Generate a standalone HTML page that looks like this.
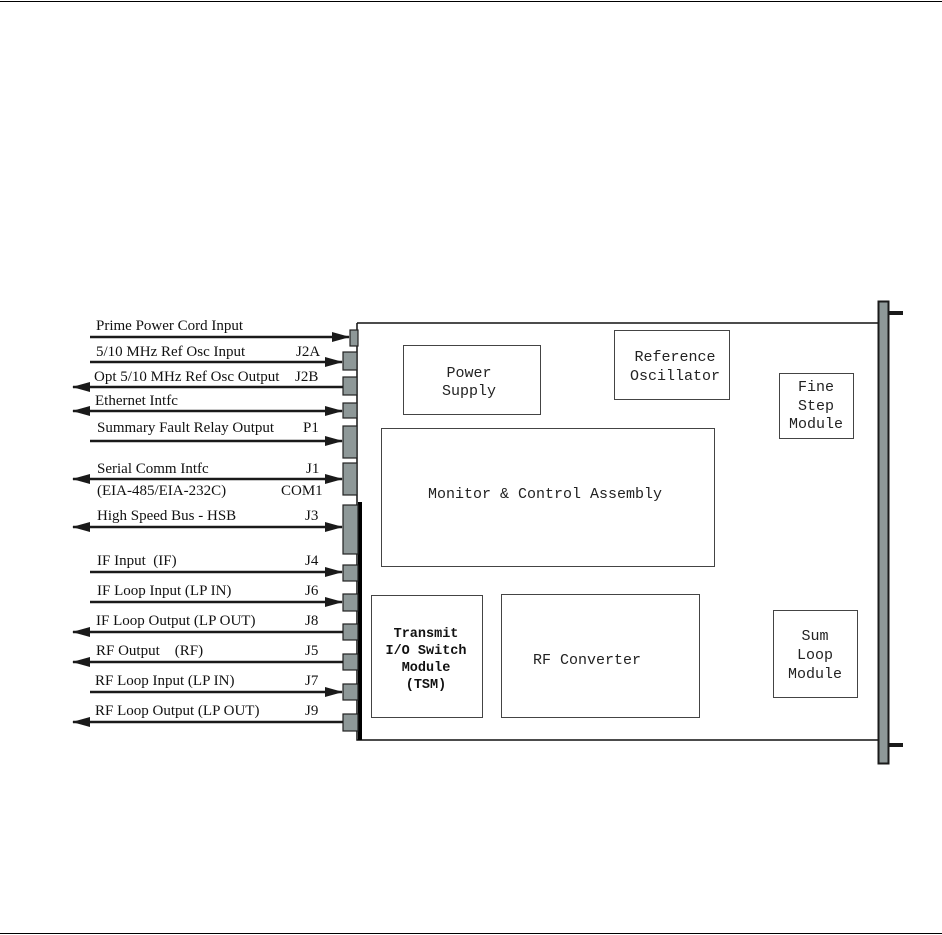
<!DOCTYPE html>
<html><head><meta charset="utf-8"><style>
html,body{margin:0;padding:0;background:#fff;}
svg{display:block;}
text{white-space:pre;}
.s{font-family:"Liberation Serif",serif;font-size:15px;fill:#111;}
.m{font-family:"Liberation Mono",monospace;font-size:15px;fill:#222;}
.b{font-family:"Liberation Mono",monospace;font-size:13.5px;font-weight:bold;fill:#111;}
</style></head><body>
<svg width="942" height="935" viewBox="0 0 942 935" xmlns="http://www.w3.org/2000/svg">
<defs>
<marker id="ah" markerWidth="18" markerHeight="10" refX="17" refY="5" orient="auto" markerUnits="userSpaceOnUse">
<path d="M0,0 L18,5 L0,10 z" fill="#1a1a1a"/></marker>
<marker id="at" markerWidth="18" markerHeight="10" refX="1" refY="5" orient="auto" markerUnits="userSpaceOnUse">
<path d="M18,0 L0,5 L18,10 z" fill="#1a1a1a"/></marker>
</defs>
<line x1="0" y1="1.5" x2="942" y2="1.5" stroke="#000" stroke-width="1"/>
<line x1="0" y1="933.5" x2="942" y2="933.5" stroke="#000" stroke-width="1"/>

<path d="M357,323 H878 M357,323 V740 H878" fill="none" stroke="#111" stroke-width="1.5"/>
<rect x="358" y="502" width="4" height="238" fill="#000"/>
<rect x="878.5" y="301.5" width="10" height="462" fill="#8e9898" stroke="#1a1a1a" stroke-width="2"/>
<rect x="889" y="311" width="14" height="4" fill="#1a1a1a"/>
<rect x="889" y="743" width="14" height="4" fill="#1a1a1a"/>

<g fill="#8e9898" stroke="#222" stroke-width="1.2">
<rect x="350" y="330" width="8" height="16"/>
<rect x="343" y="352" width="14" height="18"/>
<rect x="343" y="377" width="14" height="18"/>
<rect x="343" y="403" width="14" height="15"/>
<rect x="343" y="426" width="14" height="32"/>
<rect x="343" y="463" width="14" height="32"/>
<rect x="343" y="505" width="15" height="49"/>
<rect x="343" y="565" width="15" height="16"/>
<rect x="343" y="594" width="15" height="17"/>
<rect x="343" y="624" width="15" height="16"/>
<rect x="343" y="654" width="15" height="16"/>
<rect x="343" y="684" width="15" height="16"/>
<rect x="343" y="714" width="15" height="17"/>
</g>

<g stroke="#1a1a1a" stroke-width="2.5" fill="none">
<line x1="90" y1="337" x2="349" y2="337" marker-end="url(#ah)"/>
<line x1="90" y1="362" x2="342" y2="362" marker-end="url(#ah)"/>
<line x1="73" y1="387" x2="343" y2="387" marker-start="url(#at)"/>
<line x1="73" y1="411" x2="342" y2="411" marker-start="url(#at)" marker-end="url(#ah)"/>
<line x1="90" y1="441" x2="342" y2="441" marker-end="url(#ah)"/>
<line x1="73" y1="479" x2="342" y2="479" marker-start="url(#at)" marker-end="url(#ah)"/>
<line x1="73" y1="527" x2="342" y2="527" marker-start="url(#at)" marker-end="url(#ah)"/>
<line x1="90" y1="572" x2="342" y2="572" marker-end="url(#ah)"/>
<line x1="90" y1="602" x2="342" y2="602" marker-end="url(#ah)"/>
<line x1="73" y1="632" x2="343" y2="632" marker-start="url(#at)"/>
<line x1="73" y1="662" x2="343" y2="662" marker-start="url(#at)"/>
<line x1="90" y1="692" x2="342" y2="692" marker-end="url(#ah)"/>
<line x1="73" y1="722" x2="343" y2="722" marker-start="url(#at)"/>
</g>

<text class="s" x="96" y="330">Prime Power Cord Input</text>
<text class="s" x="96" y="356">5/10 MHz Ref Osc Input</text><text class="s" x="296" y="356">J2A</text>
<text class="s" x="94" y="381">Opt 5/10 MHz Ref Osc Output</text><text class="s" x="295" y="381">J2B</text>
<text class="s" x="95" y="405">Ethernet Intfc</text>
<text class="s" x="97" y="432">Summary Fault Relay Output</text><text class="s" x="303" y="432">P1</text>
<text class="s" x="97" y="473">Serial Comm Intfc</text><text class="s" x="306" y="473">J1</text>
<text class="s" x="97" y="495">(EIA-485/EIA-232C)</text><text class="s" x="281" y="495">COM1</text>
<text class="s" x="97" y="520">High Speed Bus - HSB</text><text class="s" x="305" y="520">J3</text>
<text class="s" x="97" y="565">IF Input  (IF)</text><text class="s" x="305" y="565">J4</text>
<text class="s" x="97" y="595">IF Loop Input (LP IN)</text><text class="s" x="305" y="595">J6</text>
<text class="s" x="96" y="625">IF Loop Output (LP OUT)</text><text class="s" x="305" y="625">J8</text>
<text class="s" x="96" y="655">RF Output    (RF)</text><text class="s" x="305" y="655">J5</text>
<text class="s" x="95" y="685">RF Loop Input (LP IN)</text><text class="s" x="305" y="685">J7</text>
<text class="s" x="95" y="715">RF Loop Output (LP OUT)</text><text class="s" x="305" y="715">J9</text>

<g fill="#fff" stroke="#444" stroke-width="1">
<rect x="403.5" y="345.5" width="137" height="69"/>
<rect x="614.5" y="330.5" width="115" height="69"/>
<rect x="779.5" y="373.5" width="74" height="65"/>
<rect x="381.5" y="428.5" width="333" height="138"/>
<rect x="371.5" y="595.5" width="111" height="122"/>
<rect x="501.5" y="594.5" width="198" height="123"/>
<rect x="773.5" y="610.5" width="84" height="87"/>
</g>
<g class="m" text-anchor="middle">
<text x="469" y="377">Power</text><text x="469" y="395">Supply</text>
<text x="675" y="361">Reference</text><text x="675" y="380">Oscillator</text>
<text x="816" y="391">Fine</text><text x="816" y="410">Step</text><text x="816" y="428">Module</text>
<text x="545" y="498">Monitor &amp; Control Assembly</text>
<text x="587" y="664">RF Converter</text>
<text x="815" y="640">Sum</text><text x="815" y="659">Loop</text><text x="815" y="678">Module</text>
</g>
<g class="b" text-anchor="middle">
<text x="426" y="637">Transmit</text><text x="426" y="654">I/O Switch</text>
<text x="426" y="671">Module</text><text x="426" y="688">(TSM)</text>
</g>
</svg>
</body></html>
